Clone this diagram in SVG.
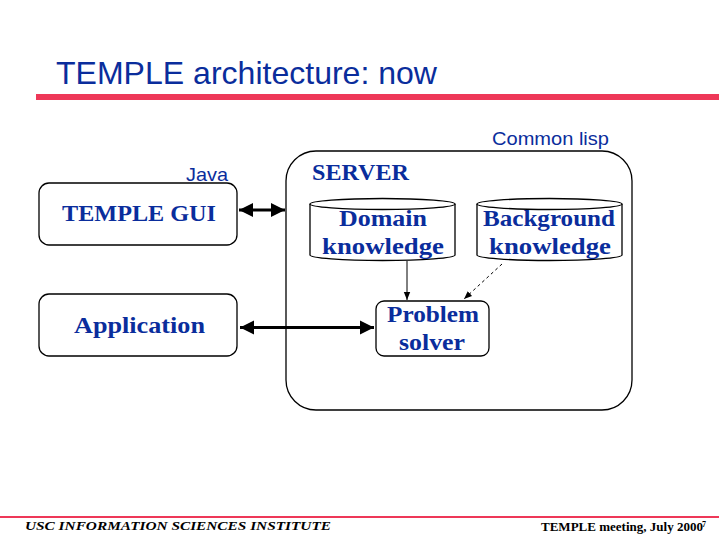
<svg xmlns="http://www.w3.org/2000/svg" width="719" height="539" viewBox="0 0 719 539">
  <style>
    .title { font-family: "Liberation Sans", Arial, sans-serif; font-size: 32px; fill: #0a2d9c; }
    .note { font-family: "Liberation Sans", Arial, sans-serif; font-size: 19px; fill: #0a2d9c; }
    .label { font-family: "Liberation Serif", "Times New Roman", serif; font-size: 23px; font-weight: bold; fill: #0a2d9c; text-anchor: middle; }
    .box { fill: #ffffff; stroke: #000000; stroke-width: 1.3; }
    .foot { font-family: "Liberation Serif", "Times New Roman", serif; font-weight: bold; fill: #000000; }
  </style>
  <defs>
    <marker id="bigHead" viewBox="0 0 10 10" refX="10" refY="5" markerWidth="4.5" markerHeight="4.5" orient="auto-start-reverse" markerUnits="strokeWidth">
      <path d="M0,0 L10,5 L0,10 z" fill="#000000"/>
    </marker>
    <marker id="smallHead" viewBox="0 0 10 10" refX="10" refY="5" markerWidth="8" markerHeight="8" orient="auto" markerUnits="strokeWidth">
      <path d="M0,1 L10,5 L0,9 z" fill="#000000"/>
    </marker>
  </defs>

  <rect width="719" height="539" fill="#ffffff"/>

  <!-- heading -->
  <text class="title" x="56" y="84" textLength="381" lengthAdjust="spacingAndGlyphs">TEMPLE architecture: now</text>
  <rect x="36" y="94" width="683" height="6" fill="#ee3858"/>

  <text class="note" x="492" y="145" textLength="117" lengthAdjust="spacingAndGlyphs">Common lisp</text>
  <text class="note" x="186" y="181" textLength="42" lengthAdjust="spacingAndGlyphs">Java</text>

  <!-- server container -->
  <g id="server">
    <rect class="box" x="286" y="151" width="346" height="259" rx="30" ry="30"/>
    <text class="label" x="312" y="180" style="text-anchor:start" textLength="97" lengthAdjust="spacingAndGlyphs">SERVER</text>
  </g>

  <g id="temple-gui">
    <rect class="box" x="39" y="183" width="198" height="62" rx="10" ry="10"/>
    <text class="label" x="139" y="221" textLength="154" lengthAdjust="spacingAndGlyphs">TEMPLE GUI</text>
  </g>

  <g id="application">
    <rect class="box" x="39" y="294" width="198" height="62" rx="10" ry="10"/>
    <text class="label" x="139.5" y="333" textLength="131" lengthAdjust="spacingAndGlyphs">Application</text>
  </g>

  <g id="domain-knowledge">
    <path class="box" d="M310,204 L310,255 A72.5,5.5 0 0 0 455,255 L455,204"/>
    <ellipse class="box" cx="382.5" cy="204" rx="72.5" ry="5.5"/>
    <text class="label" x="383" y="226" textLength="88" lengthAdjust="spacingAndGlyphs">Domain</text>
    <text class="label" x="383" y="254" textLength="122" lengthAdjust="spacingAndGlyphs">knowledge</text>
  </g>

  <g id="background-knowledge">
    <path class="box" d="M477,204 L477,255 A72.5,5.5 0 0 0 622,255 L622,204"/>
    <ellipse class="box" cx="549.5" cy="204" rx="72.5" ry="5.5"/>
    <text class="label" x="549" y="226" textLength="132" lengthAdjust="spacingAndGlyphs">Background</text>
    <text class="label" x="550" y="254" textLength="122" lengthAdjust="spacingAndGlyphs">knowledge</text>
  </g>

  <g id="problem-solver">
    <rect class="box" x="376" y="301" width="113" height="55" rx="8" ry="8"/>
    <text class="label" x="433" y="322" textLength="92" lengthAdjust="spacingAndGlyphs">Problem</text>
    <text class="label" x="432" y="350" textLength="66" lengthAdjust="spacingAndGlyphs">solver</text>
  </g>

  <!-- connectors -->
  <g id="connectors" fill="none" stroke="#000000">
    <line x1="239" y1="210" x2="285" y2="210" stroke-width="3.2" marker-start="url(#bigHead)" marker-end="url(#bigHead)"/>
    <line x1="240" y1="327.5" x2="374" y2="327.5" stroke-width="3.2" marker-start="url(#bigHead)" marker-end="url(#bigHead)"/>
    <line x1="407" y1="261" x2="407" y2="300" stroke-width="1" marker-end="url(#smallHead)"/>
    <line x1="502" y1="264" x2="464" y2="299" stroke-width="1" stroke-dasharray="3,3" marker-end="url(#smallHead)"/>
  </g>

  <!-- footer -->
  <rect x="0" y="516" width="719" height="2" fill="#ee3858"/>
  <text class="foot" x="25" y="530" font-size="13" font-style="italic" textLength="306" lengthAdjust="spacingAndGlyphs">USC INFORMATION SCIENCES INSTITUTE</text>
  <text class="foot" x="541" y="531" font-size="12" textLength="162" lengthAdjust="spacingAndGlyphs">TEMPLE meeting, July 2000</text>
  <text class="foot" x="702" y="527" font-size="8">7</text>
</svg>
